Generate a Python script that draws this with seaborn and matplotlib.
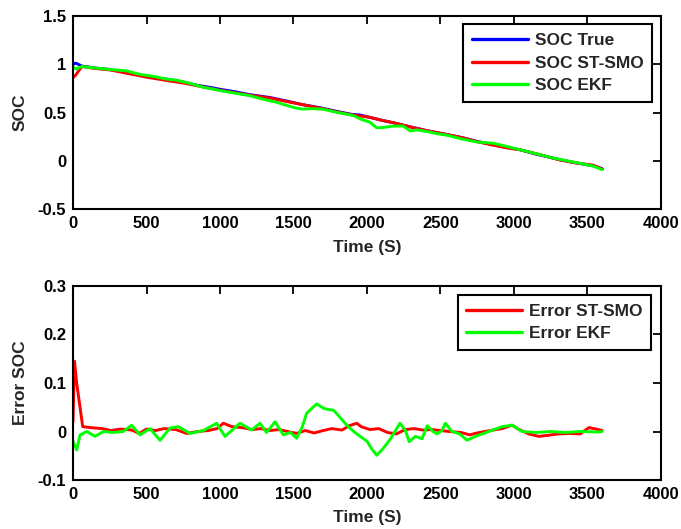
import numpy as np
import pandas as pd
import matplotlib
matplotlib.use("Agg")
import matplotlib.pyplot as plt
import seaborn as sns

# ---------------- data ----------------
t_true = [0, 20, 60, 150, 250, 320, 400, 500, 600, 660, 750, 850, 950, 1000, 1100, 1200,
          1340, 1450, 1550, 1680, 1800, 1900, 1950, 2020, 2100, 2179, 2300, 2400, 2520,
          2650, 2746, 2850, 2950, 3040, 3150, 3250, 3312, 3420, 3540, 3600]
soc_true = [1.00, 1.01, 0.98, 0.96, 0.945, 0.925, 0.90, 0.875, 0.85, 0.84, 0.815, 0.78,
            0.755, 0.74, 0.715, 0.685, 0.655, 0.62, 0.585, 0.55, 0.51, 0.48, 0.475, 0.45,
            0.42, 0.394, 0.35, 0.315, 0.28, 0.24, 0.203, 0.17, 0.14, 0.116, 0.07, 0.035,
            0.012, -0.02, -0.05, -0.08]

t_smo = [0, 15, 60, 150, 250, 320, 400, 500, 600, 660, 750, 850, 950, 1000, 1100, 1200,
         1340, 1450, 1550, 1680, 1800, 1900, 2020, 2100, 2179, 2300, 2400, 2520, 2650,
         2746, 2850, 2950, 3040, 3150, 3250, 3312, 3420, 3540, 3600]
soc_smo = [0.86, 0.88, 0.975, 0.955, 0.94, 0.92, 0.895, 0.865, 0.84, 0.825, 0.805, 0.775,
           0.745, 0.73, 0.705, 0.68, 0.65, 0.615, 0.585, 0.545, 0.505, 0.475, 0.45, 0.42,
           0.395, 0.35, 0.315, 0.28, 0.24, 0.20, 0.165, 0.135, 0.115, 0.075, 0.035, 0.01,
           -0.02, -0.045, -0.085]

t_ekf = [0, 20, 60, 150, 250, 365, 450, 560, 637, 700, 800, 887, 960, 1023, 1100, 1200,
         1300, 1383, 1450, 1520, 1565, 1620, 1700, 1800, 1905, 1960, 2020, 2066, 2110,
         2179, 2247, 2293, 2340, 2383, 2420, 2480, 2542, 2650, 2746, 2800, 2860, 2950,
         3040, 3150, 3250, 3350, 3450, 3540, 3600]
soc_ekf = [0.97, 0.95, 0.975, 0.96, 0.945, 0.93, 0.895, 0.87, 0.845, 0.835, 0.80, 0.76,
           0.74, 0.72, 0.70, 0.675, 0.635, 0.607, 0.575, 0.545, 0.535, 0.54, 0.535, 0.50,
           0.47, 0.43, 0.40, 0.342, 0.345, 0.36, 0.36, 0.31, 0.32, 0.31, 0.30, 0.28, 0.266,
           0.225, 0.196, 0.19, 0.182, 0.15, 0.116, 0.075, 0.035, 0.005, -0.025, -0.055, -0.09]

t_err_smo = [0, 10, 25, 66, 120, 200, 260, 320, 400, 450, 500, 560, 620, 700, 773, 850,
             920, 980, 1023, 1080, 1150, 1220, 1280, 1340, 1400, 1460, 1522, 1580, 1640,
             1703, 1760, 1830, 1880, 1930, 1960, 2020, 2080, 2140, 2200, 2260, 2320, 2380,
             2440, 2500, 2560, 2640, 2700, 2735, 2800, 2860, 2920, 2987, 3030, 3100, 3168,
             3230, 3300, 3380, 3450, 3510, 3560, 3600]
err_smo = [0.02, 0.145, 0.10, 0.01, 0.008, 0.006, 0.002, 0.005, 0.003, -0.004, 0.005,
           0.002, 0.006, 0.004, -0.004, 0.0, 0.002, 0.006, 0.017, 0.01, 0.008, 0.004, 0.006,
           0.002, 0.004, 0.0, -0.004, 0.002, -0.003, 0.002, 0.006, 0.003, 0.012, 0.017,
           0.010, 0.004, 0.006, -0.002, -0.005, 0.004, 0.006, 0.003, 0.004, 0.002, 0.0,
           -0.002, -0.007, -0.004, 0.0, 0.003, 0.006, 0.013, 0.005, -0.005, -0.01, -0.008,
           -0.005, -0.004, -0.005, 0.008, 0.005, 0.002]

t_err_ekf = [0, 25, 48, 93, 150, 207, 270, 342, 399, 456, 524, 592, 660, 717, 796, 887,
             977, 1034, 1136, 1215, 1272, 1317, 1374, 1431, 1480, 1522, 1560, 1590, 1658,
             1703, 1740, 1771, 1800, 1862, 1910, 1953, 2000, 2030, 2066, 2110, 2160, 2224,
             2260, 2287, 2330, 2374, 2410, 2450, 2476, 2510, 2533, 2578, 2630, 2680, 2740,
             2828, 2919, 2987, 3055, 3150, 3250, 3350, 3450, 3576, 3600]
err_ekf = [-0.02, -0.038, -0.007, 0.0, -0.01, 0.0, -0.002, 0.0, 0.013, -0.007, 0.006,
           -0.018, 0.007, 0.01, -0.004, 0.002, 0.017, -0.01, 0.017, 0.003, 0.017, -0.002,
           0.02, -0.007, -0.002, -0.014, 0.01, 0.038, 0.057, 0.048, 0.045, 0.044, 0.035,
           0.013, 0.0, -0.01, -0.02, -0.035, -0.049, -0.035, -0.015, 0.017, 0.003, -0.021,
           -0.01, -0.015, 0.012, 0.0, -0.005, 0.002, 0.017, 0.0, -0.005, -0.018, -0.01, 0.0,
           0.01, 0.013, 0.0, -0.002, 0.0, -0.002, 0.0, -0.001, 0.0]

x_ticks = [0, 500, 1000, 1500, 2000, 2500, 3000, 3500, 4000]
x_tick_labels = ["0", "500", "1000", "1500", "2000", "2500", "3000", "3500", "4000"]
soc_ticks = [-0.5, 0, 0.5, 1, 1.5]
soc_tick_labels = ["-0.5", "0", "0.5", "1", "1.5"]
err_ticks = [-0.1, 0, 0.1, 0.2, 0.3]
err_tick_labels = ["-0.1", "0", "0.1", "0.2", "0.3"]

# ---------------- style ----------------
sns.set_theme(style="white")
plt.rcParams["font.family"] = ["Liberation Sans", "DejaVu Sans"]
plt.rcParams["font.weight"] = "bold"
plt.rcParams["axes.labelweight"] = "bold"

BLUE, RED, GREEN = "#0000FF", "#FF0000", "#00FF00"
LW = 2.1

fig = plt.figure(figsize=(6.81, 5.29), dpi=100)
ax1 = fig.add_axes([0.1072, 0.6043, 0.8634, 0.3660])
ax2 = fig.add_axes([0.1072, 0.0926, 0.8634, 0.3668])

sns.lineplot(x=t_true, y=soc_true, ax=ax1, color=BLUE, lw=LW, label="SOC True", sort=False)
sns.lineplot(x=t_smo, y=soc_smo, ax=ax1, color=RED, lw=LW, label="SOC ST-SMO", sort=False)
sns.lineplot(x=t_ekf, y=soc_ekf, ax=ax1, color=GREEN, lw=LW, label="SOC EKF", sort=False)

sns.lineplot(x=t_err_smo, y=err_smo, ax=ax2, color=RED, lw=LW, label="Error ST-SMO", sort=False)
sns.lineplot(x=t_err_ekf, y=err_ekf, ax=ax2, color=GREEN, lw=LW, label="Error EKF", sort=False)

for ax, yt, ytl, ylim, ylab in [(ax1, soc_ticks, soc_tick_labels, (-0.5, 1.5), "SOC"),
                                (ax2, err_ticks, err_tick_labels, (-0.1, 0.3), "Error SOC")]:
    ax.set_xlim(0, 4000)
    ax.set_ylim(*ylim)
    ax.set_xticks(x_ticks)
    ax.set_xticklabels(x_tick_labels)
    ax.set_yticks(yt)
    ax.set_yticklabels(ytl)
    ax.set_xlabel("Time (S)", fontsize=12.5, fontweight="bold", labelpad=6)
    ax.set_ylabel(ylab, fontsize=12.5, fontweight="bold", labelpad=7)
    ax.tick_params(direction="in", length=6, width=1.3, top=True, right=True,
                   labelsize=12, pad=5, colors="black")
    for lab in ax.get_xticklabels() + ax.get_yticklabels():
        lab.set_fontweight("bold")
    for s in ax.spines.values():
        s.set_color("black")
        s.set_linewidth(1.5)

leg_kw = dict(loc="upper right", fontsize=12.5, frameon=True, fancybox=False,
              edgecolor="black", framealpha=1, handlelength=3.2, handletextpad=0.4,
              labelspacing=0.42, borderpad=0.5, borderaxespad=0)
l1 = ax1.legend(bbox_to_anchor=(0.9574, 0.954), bbox_transform=fig.transFigure, **leg_kw)
l2 = ax2.legend(bbox_to_anchor=(0.956, 0.4423), bbox_transform=fig.transFigure, **leg_kw)
for l in (l1, l2):
    l.get_frame().set_linewidth(1.5)
    for txt in l.get_texts():
        txt.set_fontweight("bold")
    for h in l.get_lines():
        h.set_linewidth(2.4)

fig.savefig("out.png", dpi=100, facecolor="white")
